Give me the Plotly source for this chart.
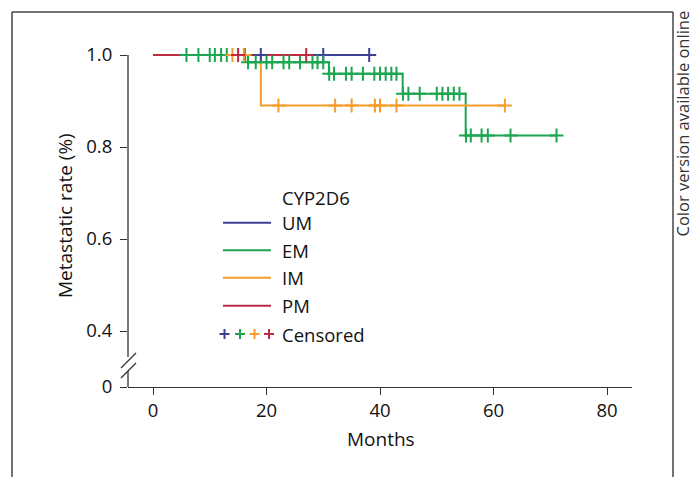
import plotly.graph_objects as go

# ---------------- data ----------------
groups = ["UM", "EM", "IM", "PM"]
group_colors = ["#3d3f95", "#1ba64f", "#f59c2a", "#bf2a43"]

um_times = [0, 38.1]
um_surv = [1.0, 1.0]
um_censor = [19.0, 30.0, 38.1]

em_times = [0, 16.7, 31.0, 44.0, 55.1, 71.1]
em_surv = [1.0, 0.984, 0.959, 0.916, 0.825, 0.825]
em_censor = [5.9, 8.0, 10.0, 10.9, 12.0, 13.0, 16.2,
             16.75, 18.1, 20.0, 21.0, 23.0, 24.0, 25.9, 28.1, 29.0, 30.0,
             31.05, 31.9, 34.0, 35.0, 37.0, 39.0, 40.0, 41.0, 42.0, 42.9,
             44.05, 45.0, 47.0, 50.0, 51.0, 52.0, 53.0, 54.0,
             55.15, 56.0, 57.9, 59.0, 63.0, 71.1]

im_times = [0, 19.0, 62.0]
im_surv = [1.0, 0.89, 0.89]
im_censor = [14.0, 16.0, 22.1, 32.1, 35.0, 39.1, 40.0, 42.9, 62.0]

pm_times = [0, 27.0]
pm_surv = [1.0, 1.0]
pm_censor = [15.0, 27.0]

x_ticks = [0, 20, 40, 60, 80]
y_tick_labels = ["0", "0.4", "0.6", "0.8", "1.0"]
y_tick_values = [0.4, 0.6, 0.8, 1.0]

series = [
    (um_times, um_surv, um_censor),
    (em_times, em_surv, em_censor),
    (im_times, im_surv, im_censor),
    (pm_times, pm_surv, pm_censor),
]

# ---------------- geometry (layout only) ----------------
W, H = 691, 477
ML, MR, MT, MB = 128, 59, 40, 90
PW, PH = W - ML - MR, H - MT - MB
X0PX, XPX = 153, 5.675     # pixel of month 0, pixels per month
Y1PX, YPX = 55, 460        # pixel of 1.0, pixels per unit
x_range = [(ML - X0PX) / XPX, (W - MR - X0PX) / XPX]
y_bottom = 1.0 - (H - MB - Y1PX) / YPX
y_top = 1.0 + (Y1PX - MT) / YPX


def step_value(times, surv, t):
    v = surv[0]
    for ti, si in zip(times, surv):
        if ti <= t:
            v = si
    return v


def px(xp):
    return (xp - ML) / PW


def py(yp):
    return (H - MB - yp) / PH


fig = go.Figure()

for (times, surv, _), name, col in zip(series, groups, group_colors):
    fig.add_trace(go.Scatter(x=times, y=surv, mode="lines", line_shape="hv",
                             line=dict(color=col, width=2), name=name,
                             showlegend=False, hoverinfo="skip"))

for (times, surv, cens), name, col in zip(series, groups, group_colors):
    fig.add_trace(go.Scatter(x=cens, y=[step_value(times, surv, t) for t in cens],
                             mode="markers", name=name + " censored", showlegend=False,
                             marker=dict(symbol="cross-thin", size=10,
                                         line=dict(color=col, width=2)),
                             cliponaxis=False, hoverinfo="skip"))

axis_col = "#333333"
shapes = []
# y axis with break
shapes.append(dict(type="line", xref="paper", yref="paper", x0=0, x1=0,
                   y0=py(357), y1=py(55), line=dict(color=axis_col, width=1.3)))
shapes.append(dict(type="line", xref="paper", yref="paper", x0=0, x1=0,
                   y0=0, y1=py(371), line=dict(color=axis_col, width=1.3)))
for (xa, ya, xb, yb) in [(121, 368, 136, 353), (121, 378, 136, 363)]:
    shapes.append(dict(type="line", xref="paper", yref="paper", x0=px(xa), y0=py(ya),
                       x1=px(xb), y1=py(yb), line=dict(color=axis_col, width=1.2)))
# outer frame
frame_col = "#444444"
for (xa, ya, xb, yb) in [(12, 12, 673, 12), (12, 12, 12, 477), (673, 12, 673, 477)]:
    shapes.append(dict(type="line", xref="paper", yref="paper", x0=px(xa), y0=py(ya),
                       x1=px(xb), y1=py(yb), line=dict(color=frame_col, width=1.5)))

annotations = []
font_family = "Open Sans"
leg_size = 18.5
# legend
leg_x_line0, leg_x_line1, leg_x_text = 223, 271, 280
leg_rows = [222.7, 250.3, 277.7, 305.7]
annotations.append(dict(text="CYP2D6", xref="paper", yref="paper", x=px(leg_x_text), y=py(197),
                        xanchor="left", yanchor="middle", showarrow=False,
                        font=dict(size=leg_size, color="#111", family=font_family)))
for name, col, yr in zip(groups, group_colors, leg_rows):
    shapes.append(dict(type="line", xref="paper", yref="paper", x0=px(leg_x_line0), x1=px(leg_x_line1),
                       y0=py(yr), y1=py(yr), line=dict(color=col, width=2)))
    annotations.append(dict(text=name, xref="paper", yref="paper", x=px(leg_x_text), y=py(yr),
                            xanchor="left", yanchor="middle", showarrow=False,
                            font=dict(size=leg_size, color="#111", family=font_family)))
cens_row = 334
for cx, col in zip([224.5, 240, 254.5, 269], group_colors):
    shapes.append(dict(type="line", xref="paper", yref="paper", x0=px(cx - 5), x1=px(cx + 5),
                       y0=py(cens_row), y1=py(cens_row), line=dict(color=col, width=2)))
    shapes.append(dict(type="line", xref="paper", yref="paper", x0=px(cx), x1=px(cx),
                       y0=py(cens_row - 5), y1=py(cens_row + 5), line=dict(color=col, width=2)))
annotations.append(dict(text="Censored", xref="paper", yref="paper", x=px(leg_x_text), y=py(cens_row),
                        xanchor="left", yanchor="middle", showarrow=False,
                        font=dict(size=leg_size, color="#111", family=font_family)))
# axis titles
annotations.append(dict(text="Metastatic rate (%)", xref="paper", yref="paper", x=px(65), y=py(216),
                        xanchor="center", yanchor="middle", textangle=-90, showarrow=False,
                        font=dict(size=19, color="#111", family=font_family)))
annotations.append(dict(text="Months", xref="paper", yref="paper", x=px(381), y=py(439),
                        xanchor="center", yanchor="middle", showarrow=False,
                        font=dict(size=19, color="#111", family=font_family)))
annotations.append(dict(text="Color version available online", xref="paper", yref="paper",
                        x=px(681.5), y=py(124), xanchor="center", yanchor="middle", textangle=-90,
                        borderpad=0, showarrow=False,
                        font=dict(size=16.5, color="#333", family=font_family)))

fig.update_layout(
    width=W, height=H,
    margin=dict(l=ML, r=MR, t=MT, b=MB, pad=0),
    paper_bgcolor="white", plot_bgcolor="white",
    font=dict(family=font_family, size=18, color="#111"),
    shapes=shapes, annotations=annotations,
    xaxis=dict(range=x_range, tickvals=x_ticks, ticks="outside", ticklen=7, tickwidth=1.3,
               tickcolor=axis_col, showline=True, linecolor=axis_col, linewidth=1.3,
               showgrid=False, zeroline=False, tickfont=dict(size=18.5)),
    yaxis=dict(range=[y_bottom, y_top], tickvals=[y_bottom] + y_tick_values, ticktext=y_tick_labels,
               ticks="outside", ticklen=7, tickwidth=1.3, tickcolor=axis_col, showline=False,
               showgrid=False, zeroline=False, tickfont=dict(size=18.5), ticklabelstandoff=4),
)

fig.write_html("out.html", config={"displayModeBar": False},
               post_script="document.body.style.margin='0';document.body.style.overflow='hidden';")
